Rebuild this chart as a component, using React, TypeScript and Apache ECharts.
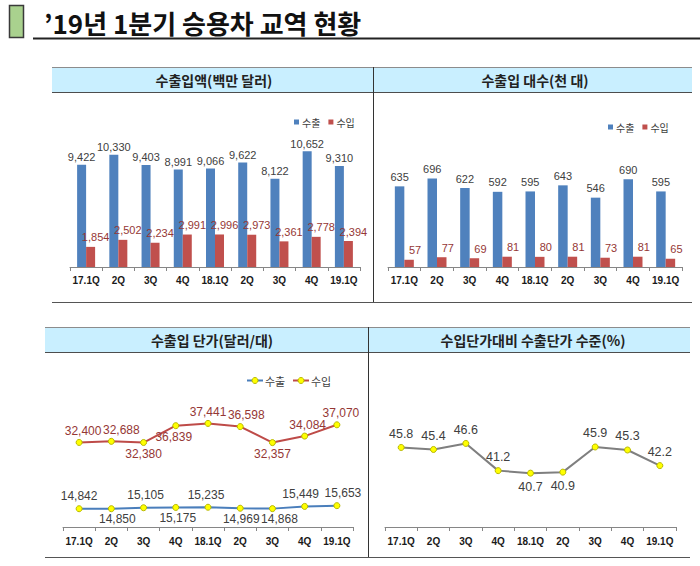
import React, { useEffect, useRef } from 'react';
import * as echarts from 'echarts';

const categories = ['17.1Q', '2Q', '3Q', '4Q', '18.1Q', '2Q', '3Q', '4Q', '19.1Q'];

const exportAmount = [9422, 10330, 9403, 8991, 9066, 9622, 8122, 10652, 9310];
const importAmount = [1854, 2502, 2234, 2991, 2996, 2973, 2361, 2778, 2394];

const exportUnits = [635, 696, 622, 592, 595, 643, 546, 690, 595];
const importUnits = [57, 77, 69, 81, 80, 81, 73, 81, 65];

const exportPrice = [14842, 14850, 15105, 15175, 15235, 14969, 14868, 15449, 15653];
const importPrice = [32400, 32688, 32380, 36839, 37441, 36598, 32357, 34084, 37070];

const priceRatio = [45.8, 45.4, 46.6, 41.2, 40.7, 40.9, 45.9, 45.3, 42.2];

const pageTitle = '\u201919년 1분기 승용차 교역 현황';
const panelTitles = ['수출입액(백만 달러)', '수출입 대수(천 대)', '수출입 단가(달러/대)', '수입단가대비 수출단가 수준(%)'];
const seriesLabels = ['수출', '수입'];
const legendNames: Record<string, string> = {
  exp1: '수출', imp1: '수입', exp2: '수출', imp2: '수입', exp3: '수출', imp3: '수입',
};

// label placement styles (not data)
const exportPricePos = ['top', 'bottom', 'top', 'bottom', 'top', 'bottom', 'bottom', 'top', 'top'];
const exportPriceShift = [0, 6, 2, 2, -2, 1, 7, -4, 6];
const importPricePos = ['top', 'top', 'bottom', 'bottom', 'top', 'top', 'bottom', 'top', 'top'];
const importPriceShift = [4, 10, 0, -2, 0, 6, 0, 3, 4];
const ratioPos = ['top', 'top', 'top', 'top', 'bottom', 'bottom', 'top', 'top', 'top'];

const NUM_FONT = '"Liberation Sans", Arial, "Noto Sans CJK KR", sans-serif';
const KR_FONT = '"Noto Sans CJK KR", "Noto Sans", sans-serif';
const fmt = (v: number) => v.toLocaleString('en-US');

const BLUE = '#4f81bd';
const RED = '#c0504d';
const LINE_BLUE = '#4a7ebb';
const LINE_RED = '#be4b48';
const LBL_DARK = '#404040';
const LBL_RED = '#953735';
const HEADER_FILL = '#c9efff';
const MARK_FILL = '#ffff00';
const MARK_EDGE = '#b8b800';

function xAxisCfg(gridIndex: number, margin: number) {
  return {
    type: 'category',
    gridIndex,
    data: categories,
    boundaryGap: true,
    axisLine: { show: true, lineStyle: { color: '#868686', width: 1 } },
    axisTick: { show: true, length: 4, lineStyle: { color: '#868686' } },
    axisLabel: {
      interval: 0,
      margin,
      fontSize: 10,
      fontWeight: 'bold',
      color: '#1a1a1a',
      fontFamily: NUM_FONT,
    },
    splitLine: { show: false },
  };
}

function yAxisCfg(gridIndex: number, min: number, max: number) {
  return { type: 'value', gridIndex, min, max, show: false, splitLine: { show: false } };
}

const marker = {
  symbol: 'circle',
  symbolSize: 6,
  itemStyle: { color: MARK_FILL, borderColor: MARK_EDGE, borderWidth: 1 },
};

function headerText(x: number, y: number, text: string) {
  return {
    type: 'text',
    x,
    y,
    style: {
      text,
      fontSize: 14,
      fontWeight: 'bold',
      fontFamily: KR_FONT,
      fill: '#222222',
      textAlign: 'center',
      textVerticalAlign: 'middle',
      align: 'center',
      verticalAlign: 'middle',
    },
  };
}

function hline(x1: number, x2: number, y: number, color: string, w = 1) {
  return { type: 'line', shape: { x1, y1: y, x2, y2: y }, style: { stroke: color, lineWidth: w } };
}
function vline(x: number, y1: number, y2: number, color: string, w = 1) {
  return { type: 'line', shape: { x1: x, y1, x2: x, y2 }, style: { stroke: color, lineWidth: w } };
}

// legend entry (line + marker + text) for the unit-price panel
function lineLegendItem(x: number, y: number, color: string, text: string) {
  return {
    type: 'group',
    x,
    y,
    children: [
      { type: 'line', shape: { x1: 0, y1: 0, x2: 16, y2: 0 }, style: { stroke: color, lineWidth: 2 } },
      { type: 'circle', shape: { cx: 8, cy: 0, r: 3 }, style: { fill: MARK_FILL, stroke: MARK_EDGE, lineWidth: 1 } },
      {
        type: 'text',
        x: 18,
        y: 0,
        style: {
          text,
          fontSize: 11,
          fontFamily: KR_FONT,
          fill: LBL_DARK,
          textAlign: 'left',
          textVerticalAlign: 'middle',
          align: 'left',
          verticalAlign: 'middle',
        },
      },
    ],
  };
}

function buildOption() {
  return {
    animation: false,
    backgroundColor: '#ffffff',
    textStyle: { fontFamily: NUM_FONT },
    grid: [
      { left: 70, top: 115, width: 290, height: 152 },
      { left: 388, top: 140, width: 294, height: 127 },
      { left: 63, top: 376, width: 290, height: 151 },
      { left: 385, top: 376, width: 291, height: 151 },
    ],
    xAxis: [xAxisCfg(0, 8), xAxisCfg(1, 8), xAxisCfg(2, 9), xAxisCfg(3, 9)],
    yAxis: [yAxisCfg(0, 0, 14000), yAxisCfg(1, 0, 1000), yAxisCfg(2, 10000, 50000), yAxisCfg(3, 30, 60)],
    legend: [
      {
        data: ['exp1', 'imp1'],
        left: 289,
        top: 112,
        icon: 'rect',
        itemWidth: 5,
        itemHeight: 5,
        itemGap: 8,
        formatter: (n: string) => legendNames[n] || n,
        textStyle: { fontSize: 10, color: LBL_DARK, fontFamily: KR_FONT, padding: [0, 0, 0, -2] },
      },
      {
        data: ['exp2', 'imp2'],
        left: 603,
        top: 117,
        icon: 'rect',
        itemWidth: 5,
        itemHeight: 5,
        itemGap: 8,
        formatter: (n: string) => legendNames[n] || n,
        textStyle: { fontSize: 10, color: LBL_DARK, fontFamily: KR_FONT, padding: [0, 0, 0, -2] },
      },
    ],
    series: [
      {
        name: 'exp1',
        type: 'bar',
        xAxisIndex: 0,
        yAxisIndex: 0,
        data: exportAmount,
        barWidth: 9,
        barGap: '0%',
        itemStyle: { color: BLUE },
        label: {
          show: true,
          position: 'top',
          distance: 2,
          fontSize: 11,
          color: LBL_DARK,
          formatter: (p: any) => fmt(p.value),
        },
      },
      {
        name: 'imp1',
        type: 'bar',
        xAxisIndex: 0,
        yAxisIndex: 0,
        data: importAmount,
        barWidth: 9,
        barGap: '0%',
        itemStyle: { color: RED },
        label: {
          show: true,
          position: 'top',
          distance: 4,
          offset: [5, 0],
          fontSize: 11,
          color: LBL_RED,
          formatter: (p: any) => fmt(p.value),
        },
      },
      {
        name: 'exp2',
        type: 'bar',
        xAxisIndex: 1,
        yAxisIndex: 1,
        data: exportUnits,
        barWidth: 9.5,
        barGap: '0%',
        itemStyle: { color: BLUE },
        label: { show: true, position: 'top', distance: 4, fontSize: 11, color: LBL_DARK },
      },
      {
        name: 'imp2',
        type: 'bar',
        xAxisIndex: 1,
        yAxisIndex: 1,
        data: importUnits,
        barWidth: 9.5,
        barGap: '0%',
        itemStyle: { color: RED },
        label: { show: true, position: 'top', distance: 4, offset: [6, 0], fontSize: 11, color: LBL_RED },
      },
      {
        name: 'exp3',
        type: 'line',
        xAxisIndex: 2,
        yAxisIndex: 2,
        ...marker,
        lineStyle: { color: LINE_BLUE, width: 2 },
        data: exportPrice.map((v, i) => ({
          value: v,
          label: {
            position: exportPricePos[i],
            distance: exportPricePos[i] === 'top' ? 3 : 1,
            offset: [exportPriceShift[i], 0],
          },
        })),
        label: {
          show: true,
          fontSize: 12,
          color: LBL_DARK,
          formatter: (p: any) => fmt(p.value),
        },
      },
      {
        name: 'imp3',
        type: 'line',
        xAxisIndex: 2,
        yAxisIndex: 2,
        ...marker,
        lineStyle: { color: LINE_RED, width: 2 },
        data: importPrice.map((v, i) => ({
          value: v,
          label: {
            position: importPricePos[i],
            distance: 2,
            offset: [importPriceShift[i], 0],
          },
        })),
        label: {
          show: true,
          fontSize: 12,
          color: LBL_RED,
          formatter: (p: any) => fmt(p.value),
        },
      },
      {
        name: 'ratio',
        type: 'line',
        xAxisIndex: 3,
        yAxisIndex: 3,
        ...marker,
        lineStyle: { color: '#7f7f7f', width: 2 },
        data: priceRatio.map((v, i) => ({
          value: v,
          label: { position: ratioPos[i], distance: 4 },
        })),
        label: {
          show: true,
          fontSize: 12.5,
          color: LBL_DARK,
          formatter: (p: any) => Number(p.value).toFixed(1),
        },
      },
    ],
    graphic: {
      elements: [
        // page title
        {
          type: 'rect',
          shape: { x: 9.5, y: 5.5, width: 14, height: 32 },
          style: { fill: '#a9d18e', stroke: '#3a3a3a', lineWidth: 1.5 },
        },
        {
          type: 'text',
          x: 44,
          y: 22,
          style: {
            text: pageTitle,
            fontSize: 26,
            fontWeight: 'bold',
            fontFamily: KR_FONT,
            fill: '#111111',
            textAlign: 'left',
            textVerticalAlign: 'middle',
            align: 'left',
            verticalAlign: 'middle',
          },
        },
        hline(33, 700, 38.5, '#222222', 2),
        // top table
        {
          type: 'rect',
          shape: { x: 52, y: 67, width: 640, height: 26 },
          style: { fill: HEADER_FILL },
        },
        hline(52, 692, 67.5, '#8c8c8c'),
        hline(52, 692, 92.5, '#4d4d4d'),
        vline(373.5, 67, 302, '#333333'),
        hline(52, 692, 302.5, '#555555'),
        headerText(214, 80, panelTitles[0]),
        headerText(535, 80, panelTitles[1]),
        // bottom table
        {
          type: 'rect',
          shape: { x: 45, y: 327, width: 645, height: 26 },
          style: { fill: HEADER_FILL },
        },
        hline(45, 690, 327.5, '#8c8c8c'),
        hline(45, 690, 352.5, '#4d4d4d'),
        vline(368.5, 327, 557, '#333333'),
        hline(45, 690, 557.5, '#555555'),
        headerText(212, 340, panelTitles[2]),
        headerText(533, 340, panelTitles[3]),
        // line legend for unit-price panel
        lineLegendItem(247, 380.5, LINE_BLUE, seriesLabels[0]),
        lineLegendItem(293, 380.5, LINE_RED, seriesLabels[1]),
      ],
    },
  };
}

export default function App() {
  const ref = useRef<HTMLDivElement>(null);
  useEffect(() => {
    document.body.style.margin = '0';
    const chart = echarts.init(ref.current as HTMLDivElement, null, { renderer: 'svg' });
    chart.setOption(buildOption() as any);
    return () => {
      chart.dispose();
    };
  }, []);
  return <div ref={ref} style={{ width: 700, height: 566 }} />;
}
